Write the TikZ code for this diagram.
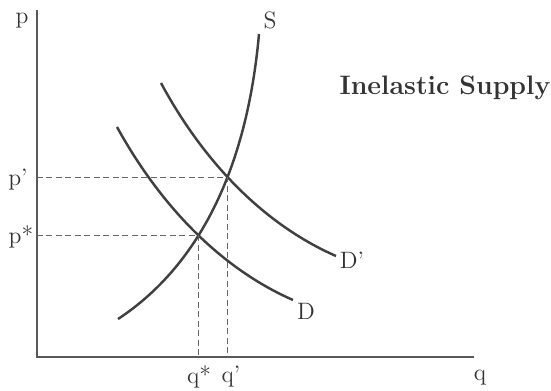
\documentclass[tikz,border=0pt]{standalone}
\usepackage{tikz}
\usetikzlibrary{positioning,intersections}
\begin{document}
\begin{tikzpicture}[x=0.02cm,y=-0.02cm,font=\fontsize{13.5}{16}\selectfont,text=black!80,curve/.style={line width=1.4pt,black!75},axis/.style={line width=0.9pt,black!65},guide/.style={black!60,line width=0.6pt,dash pattern=on 3.4pt off 2pt}]
    \useasboundingbox (0,0) rectangle (551,390);
    % Axes with the two end labels
    \coordinate (origin) at (37,357);
    \coordinate (ptop) at (37,10);
    \coordinate (qend) at (474,357);
    \draw[axis] (ptop) -- (origin) -- (qend);
    \node (plab) at (22,21) {p};
    \node (qlab) at (480,378) {q};
    % Supply and the two demand curves
    \draw[curve,name path=supply] (118,319) .. controls (185,275) and (245,190) .. (259,34);
    \draw[curve,name path=demand] (117,127) .. controls (160,205) and (220,268) .. (293,300);
    \draw[curve,name path=demandnew] (161,83) .. controls (203,161) and (263,224) .. (336,256);
    \node (slab) at (270,20) {S};
    \node (dlab) at (306,311) {D};
    \node (dprimelab) at (352,260) {D'};
    % Equilibrium points and dashed guides to the axes
    \path[name intersections={of=supply and demand,by=eqstar}];
    \path[name intersections={of=supply and demandnew,by=eqprime}];
    \draw[guide] (origin |- eqprime) -- (eqprime) -- (eqprime |- origin);
    \draw[guide] (origin |- eqstar) -- (eqstar) -- (eqstar |- origin);
    \node (pprime) at (18,180) {p'};
    \node (pstar) at (21,237) {p*};
    \node (qstar) at (199,377) {q*};
    \node (qprime) at (231,377) {q'};
    \node[font=\fontsize{15.2}{18}\selectfont\bfseries] (title) at (445,88) {Inelastic Supply};
\end{tikzpicture}
\end{document}
